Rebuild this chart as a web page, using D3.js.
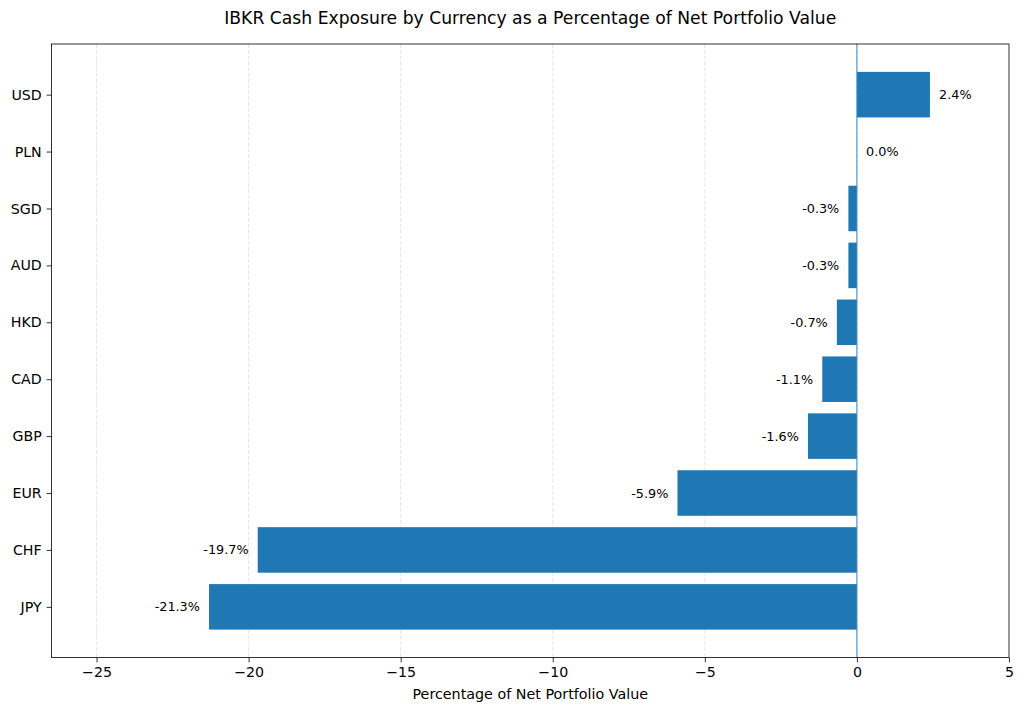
<!DOCTYPE html>
<html>
<head>
<meta charset="utf-8">
<script src="https://cdn.jsdelivr.net/npm/d3@7"></script>
<style>
    body { margin: 0; background: #fff; }
    svg { display: block; font-family: "DejaVu Sans", sans-serif; }
</style>
</head>
<body>
<div id="chart"></div>
<script>
// currencies top to bottom, with cash exposure as % of net portfolio value
const currencies = ["USD", "PLN", "SGD", "AUD", "HKD", "CAD", "GBP", "EUR", "CHF", "JPY"];
const exposure = [2.4, 0.0, -0.28, -0.28, -0.66, -1.14, -1.61, -5.9, -19.7, -21.3];
const xTicks = [-25, -20, -15, -10, -5, 0, 5];

const width = 1024, height = 713;
const margin = {top: 44, right: 15, bottom: 55.5, left: 51.5};

const svg = d3.select("#chart").append("svg")
    .attr("width", width)
    .attr("height", height);

const x = d3.scaleLinear()
    .domain([-26.48, 5])
    .range([margin.left, width - margin.right]);

// matplotlib-like category positions: index 0 on top, 5% padding
const y = d3.scaleLinear()
    .domain([-0.89, currencies.length - 1 + 0.89])
    .range([margin.top, height - margin.bottom]);

const barH = y(0.4) - y(-0.4);

// ── Grid ──
svg.append("g")
    .selectAll("line")
    .data(xTicks.filter(d => d < 5))
    .join("line")
    .attr("x1", d => x(d)).attr("x2", d => x(d))
    .attr("y1", margin.top).attr("y2", height - margin.bottom)
    .attr("stroke", "#b0b0b0")
    .attr("stroke-opacity", 0.4)
    .attr("stroke-width", 0.8)
    .attr("stroke-dasharray", "4,1.8");

// ── Bars ──
svg.append("g")
    .selectAll("rect")
    .data(exposure)
    .join("rect")
    .attr("x", d => x(Math.min(0, d)))
    .attr("width", d => Math.abs(x(d) - x(0)))
    .attr("y", (d, i) => y(i) - barH / 2)
    .attr("height", barH)
    .attr("fill", "#1f77b4");

// ── Zero line ──
svg.append("line")
    .attr("x1", x(0)).attr("x2", x(0))
    .attr("y1", margin.top).attr("y2", height - margin.bottom)
    .attr("stroke", "#3a87c4")
    .attr("stroke-width", 1);

// ── Value labels ──
svg.append("g")
    .selectAll("text")
    .data(exposure)
    .join("text")
    .attr("x", d => d >= 0 ? x(d + 0.3) : x(d - 0.3))
    .attr("y", (d, i) => y(i))
    .attr("dy", "0.35em")
    .attr("text-anchor", d => d >= 0 ? "start" : "end")
    .attr("font-size", "12.8px")
    .attr("fill", "#000")
    .text(d => d.toFixed(1) + "%");

// ── Axes ──
const fmt = d => d < 0 ? "\u2212" + Math.abs(d) : String(d);

const xAxis = svg.append("g")
    .attr("transform", `translate(0,${height - margin.bottom})`)
    .call(d3.axisBottom(x).tickValues(xTicks).tickFormat(fmt).tickSize(4.9).tickPadding(4.9));

const yAxis = svg.append("g")
    .attr("transform", `translate(${margin.left},0)`)
    .call(d3.axisLeft(y).tickValues(d3.range(currencies.length)).tickFormat(i => currencies[i]).tickSize(4.9).tickPadding(4.9));

[xAxis, yAxis].forEach(a => {
    a.select(".domain").remove();
    a.selectAll("line").attr("stroke", "#000").attr("stroke-width", 0.8);
    a.selectAll("text").attr("font-size", "14.2px").attr("fill", "#000").attr("font-family", "DejaVu Sans, sans-serif");
});

// frame
svg.append("rect")
    .attr("x", margin.left).attr("y", margin.top)
    .attr("width", width - margin.left - margin.right)
    .attr("height", height - margin.top - margin.bottom)
    .attr("fill", "none")
    .attr("stroke", "#000")
    .attr("stroke-width", 0.8);

// ── Titles ──
svg.append("text")
    .attr("x", (margin.left + width - margin.right) / 2)
    .attr("y", 24)
    .attr("text-anchor", "middle")
    .attr("font-size", "17.2px")
    .text("IBKR Cash Exposure by Currency as a Percentage of Net Portfolio Value");

svg.append("text")
    .attr("x", (margin.left + width - margin.right) / 2)
    .attr("y", 699)
    .attr("text-anchor", "middle")
    .attr("font-size", "14.3px")
    .text("Percentage of Net Portfolio Value");
</script>
</body>
</html>
